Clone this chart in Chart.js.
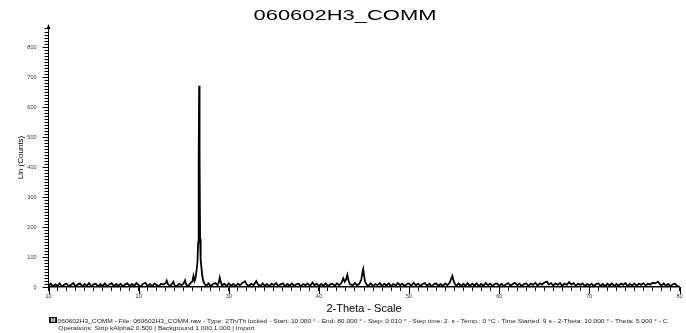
<!DOCTYPE html>
<html>
<head>
<meta charset="utf-8">
<title>060602H3_COMM</title>
<script src="https://cdn.jsdelivr.net/npm/chart.js@4.4.1/dist/chart.umd.min.js"></script>
<style>
  body { margin: 0; background: #fff; }
  #xrd { display: block; }
</style>
</head>
<body>
<canvas id="xrd" width="686" height="333"></canvas>
<script>
// titulo e textos do rodape
const sampleName = '060602H3_COMM';
const footerLines = [
  '060602H3_COMM - File: 060602H3_COMM.raw - Type: 2Th/Th locked - Start: 10.000 ° - End: 80.000 ° - Step: 0.010 ° - Step time: 2. s - Temp.: 0 °C - Time Started: 9 s - 2-Theta: 10.000 ° - Theta: 5.000 ° - C',
  'Operations: Strip kAlpha2 0.500 | Background 1.000,1.000 | Import',
];

// rotulos dos eixos
const xTickLabels = [10, 20, 30, 40, 50, 60, 70, 80];
const yTickLabels = [0, 100, 200, 300, 400, 500, 600, 700, 800];

// difratograma (2-theta, contagens)
const twoTheta = [
  10, 10.25, 10.5, 10.75, 11, 11.25, 11.5, 11.75, 12, 12.25, 12.5, 12.75, 13, 13.25, 13.5, 13.75, 14, 14.25, 14.5, 14.75,
  15, 15.25, 15.5, 15.75, 16, 16.25, 16.5, 16.75, 17, 17.25, 17.5, 17.75, 18, 18.25, 18.5, 18.75, 19, 19.25, 19.5, 19.75,
  20, 20.25, 20.5, 20.75, 21, 21.25, 21.5, 21.75, 22, 22.25, 22.5, 22.75,
  23, 23.12, 23.25, 23.5, 23.75, 23.85, 24, 24.25, 24.5, 24.75, 25, 25.15, 25.3, 25.5, 25.75, 25.95,
  26.08, 26.2, 26.3, 26.42, 26.52, 26.6, 26.66, 26.71, 26.76, 26.82, 26.88, 26.95, 27.05, 27.15, 27.3, 27.5, 27.75,
  28, 28.25, 28.5, 28.75, 28.9, 29, 29.1, 29.25, 29.5, 29.75,
  30, 30.25, 30.5, 30.75, 31, 31.25, 31.5, 31.8, 32, 32.25, 32.5, 32.75, 33.05, 33.25, 33.5, 33.75, 34, 34.25, 34.5, 34.75,
  35, 35.25, 35.5, 35.75, 36, 36.25, 36.5, 36.75, 37, 37.25, 37.5, 37.75, 38, 38.25, 38.5, 38.75, 39, 39.3, 39.5, 39.75,
  40, 40.25, 40.5, 40.75, 41, 41.25, 41.5, 41.75, 42, 42.25, 42.5,
  42.7, 42.85, 43, 43.15, 43.3, 43.45, 43.75, 44, 44.25, 44.5, 44.7, 44.85, 44.92, 45, 45.12, 45.3, 45.5, 45.75,
  46, 46.25, 46.5, 46.75, 47, 47.25, 47.5, 47.75, 48, 48.25, 48.5, 48.75, 49, 49.25, 49.5, 49.75,
  50, 50.25, 50.5, 50.75, 51, 51.25, 51.5, 51.75, 52, 52.25, 52.5, 52.75, 53, 53.25, 53.5, 53.75,
  54, 54.25, 54.5, 54.7, 54.8, 54.92, 55.1, 55.25, 55.5, 55.75,
  56, 56.25, 56.5, 56.75, 57, 57.25, 57.5, 57.75, 58, 58.25, 58.5, 58.75, 59, 59.25, 59.5, 59.75,
  60, 60.25, 60.5, 60.75, 61, 61.25, 61.5, 61.75, 62, 62.25, 62.5, 62.75, 63, 63.25, 63.5, 63.75, 64, 64.25, 64.5, 64.75,
  65, 65.3, 65.5, 65.75, 66, 66.25, 66.5, 66.75, 67, 67.25, 67.5, 67.75, 68, 68.25, 68.5, 68.75, 69, 69.25, 69.5, 69.75,
  70, 70.25, 70.5, 70.75, 71, 71.25, 71.5, 71.75, 72, 72.25, 72.5, 72.75, 73, 73.25, 73.5, 73.75, 74, 74.25, 74.5, 74.75,
  75, 75.25, 75.5, 75.75, 76, 76.25, 76.5, 76.75, 77, 77.3, 77.6, 77.85, 78, 78.25, 78.5, 78.75, 79, 79.25, 79.5, 79.75, 80,
];
const counts = [
  3, 11, 2, 9, 4, 12, 1, 8, 11, 3, 7, 13, 2, 9, 12, 1, 10, 4, 13, 2,
  9, 11, 1, 10, 3, 12, 2, 8, 13, 3, 10, 4, 11, 2, 9, 12, 3, 10, 4, 13,
  7, 2, 11, 14, 3, 10, 2, 12, 6, 3, 11, 8,
  13, 21, 9, 3, 12, 17, 5, 2, 11, 6, 12, 22, 7, 3, 13, 18,
  37, 20, 28, 55, 80, 150, 420, 672, 430, 160, 90, 70, 40, 22, 11, 4, 12,
  3, 10, 13, 6, 16, 31, 18, 5, 11, 3,
  12, 4, 10, 2, 11, 6, 13, 19, 8, 3, 11, 6, 20, 8, 3, 12, 4, 10, 2, 11,
  6, 13, 3, 9, 12, 2, 10, 4, 12, 3, 9, 11, 2, 10, 6, 12, 3, 15, 6, 11,
  3, 10, 4, 12, 2, 9, 11, 4, 12, 6, 14,
  29, 18, 24, 40, 20, 9, 6, 13, 5, 12, 25, 52, 60, 40, 18, 8, 4, 12,
  3, 10, 6, 13, 3, 11, 5, 12, 2, 10, 4, 13, 6, 11, 3, 10,
  12, 4, 14, 6, 11, 3, 10, 13, 4, 11, 2, 9, 12, 4, 10, 3,
  12, 6, 14, 30, 37, 22, 9, 4, 12, 3,
  10, 5, 13, 3, 11, 5, 12, 2, 10, 4, 13, 6, 11, 3, 10, 12,
  4, 11, 2, 9, 13, 4, 10, 14, 6, 11, 3, 10, 12, 4, 11, 7, 14, 5, 12, 8,
  15, 18, 8, 13, 5, 12, 7, 13, 4, 11, 7, 16, 8, 13, 4, 11, 7, 12, 3, 10,
  5, 11, 3, 10, 12, 4, 10, 2, 11, 5, 12, 3, 10, 4, 11, 7, 13, 3, 10, 5,
  12, 4, 11, 7, 13, 5, 11, 8, 14, 12, 18, 9, 5, 12, 4, 10, 3, 9, 11, 3, 2,
];

const fontFamily = '"Liberation Sans", Arial, sans-serif';
Chart.defaults.font.family = fontFamily;

// titulo esticado, tracos maiores, seta do eixo y e rodape
const extras = {
  id: 'extras',
  afterDraw(chart) {
    const { ctx, chartArea: area, scales: { x, y } } = chart;
    ctx.save();

    ctx.strokeStyle = '#000';
    ctx.lineWidth = 1;
    ctx.beginPath();
    xTickLabels.forEach(v => {
      const px = Math.round(x.getPixelForValue(v)) + 0.5;
      ctx.moveTo(px, area.bottom);
      ctx.lineTo(px, area.bottom + 7);
    });
    yTickLabels.forEach(v => {
      const py = Math.round(y.getPixelForValue(v)) + 0.5;
      ctx.moveTo(area.left, py);
      ctx.lineTo(area.left - 6, py);
    });
    ctx.stroke();

    // seta
    ctx.fillStyle = '#000';
    ctx.beginPath();
    ctx.moveTo(area.left, area.top - 4);
    ctx.lineTo(area.left - 2, area.top + 1);
    ctx.lineTo(area.left + 2, area.top + 1);
    ctx.closePath();
    ctx.fill();

    // titulo
    ctx.font = '15px ' + fontFamily;
    ctx.textBaseline = 'middle';
    ctx.textAlign = 'center';
    const tw = ctx.measureText(sampleName).width;
    ctx.translate(345, 16);
    ctx.scale(183 / tw, 1);
    ctx.fillText(sampleName, 0, 0);
    ctx.setTransform(1, 0, 0, 1, 0, 0);

    // icone
    ctx.fillRect(49, 317, 8, 6);
    ctx.fillStyle = '#fff';
    ctx.font = 'bold 6px ' + fontFamily;
    ctx.fillText('M', 53, 320.2);

    // rodape
    ctx.fillStyle = '#222';
    ctx.font = '6px ' + fontFamily;
    ctx.textAlign = 'left';
    const sx = 610 / ctx.measureText(footerLines[0]).width;
    ctx.translate(57.5, 321.5);
    ctx.scale(sx, 1);
    ctx.fillText(footerLines[0], 0, 0);
    ctx.setTransform(1, 0, 0, 1, 0, 0);
    ctx.translate(58.3, 328.3);
    ctx.scale(sx, 1);
    ctx.fillText(footerLines[1], 0, 0);
    ctx.restore();
  },
};

const chart = new Chart(document.getElementById('xrd'), {
  type: 'line',
  data: {
    datasets: [{
      label: sampleName,
      data: twoTheta.map((t, i) => ({ x: t, y: counts[i] })),
      borderColor: '#000',
      borderWidth: 1.8,
      pointRadius: 0,
      tension: 0,
    }],
  },
  options: {
    responsive: false,
    animation: false,
    devicePixelRatio: 1,
    layout: { padding: { top: 28, right: 6.5, bottom: 16, left: 0 } },
    plugins: {
      legend: { display: false },
      tooltip: { enabled: false },
    },
    scales: {
      x: {
        type: 'linear',
        min: 10,
        max: 80,
        afterFit(scale) { scale.height = 30; },
        ticks: {
          stepSize: 1,
          autoSkip: false,
          maxRotation: 0,
          padding: 2,
          color: '#333',
          font: { size: 5.5 },
          callback: v => (xTickLabels.includes(v) ? String(v) : ''),
        },
        grid: { drawOnChartArea: false, tickLength: 4, tickColor: '#000' },
        border: { color: '#000', width: 1.5 },
        title: {
          display: true,
          text: '2-Theta - Scale',
          color: '#000',
          font: { size: 11 },
          padding: { top: 0, bottom: 1 },
        },
      },
      y: {
        min: 0,
        max: 865,
        afterFit(scale) { scale.width = 48.5; },
        ticks: {
          stepSize: 10,
          autoSkip: false,
          padding: 8,
          color: '#333',
          font: { size: 5.5 },
          callback: v => (yTickLabels.includes(v) ? String(v) : ''),
        },
        grid: { drawOnChartArea: false, tickLength: 4, tickColor: '#000' },
        border: { color: '#000', width: 1 },
        title: {
          display: true,
          text: 'Lin (Counts)',
          color: '#000',
          font: { size: 8 },
          padding: { top: 16, bottom: 0 },
        },
      },
    },
  },
  plugins: [extras],
});
</script>
</body>
</html>
